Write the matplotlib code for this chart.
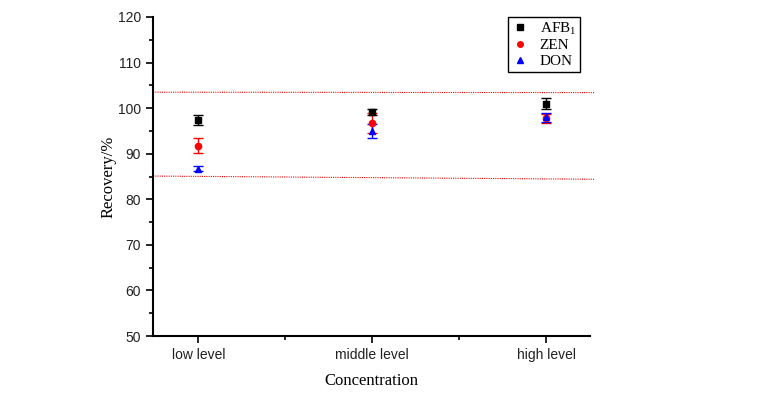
import matplotlib
matplotlib.use("Agg")
import matplotlib.pyplot as plt
from matplotlib.lines import Line2D
from matplotlib.ticker import MultipleLocator

# Data
levels = ["low level", "middle level", "high level"]
afb1 = [97.4, 99.2, 101.0]
afb1_err = [1.0, 0.7, 1.2]
zen = [91.8, 96.8, 97.8]
zen_err = [1.7, 2.2, 1.0]
don = [86.7, 95.0, 98.0]
don_err = [0.6, 1.6, 1.0]

# red reference lines (start, end)
upper_ref = [103.5, 103.4]
lower_ref = [85.1, 84.4]
ref_x = [0.74, 3.28]

plt.rcParams["mathtext.fontset"] = "stix"

fig = plt.figure(figsize=(7.69, 3.94), dpi=100)
ax = fig.add_axes([0.199, 0.147, 0.568, 0.81])

x = [1, 2, 3]
ax.errorbar(x, afb1, yerr=afb1_err, fmt="s", color="black", ms=4.5,
            capsize=3.5, elinewidth=1, capthick=1)
ax.errorbar(x, zen, yerr=zen_err, fmt="o", color="red", ms=4.5,
            capsize=3.5, elinewidth=1, capthick=1)
ax.errorbar(x, don, yerr=don_err, fmt="^", color="blue", ms=5,
            capsize=3.5, elinewidth=1, capthick=1)

ax.plot(ref_x, upper_ref, color="red", ls=(0, (1, 1)), lw=0.8, clip_on=False)
ax.plot(ref_x, lower_ref, color="red", ls=(0, (1, 1)), lw=0.8, clip_on=False)

ax.set_xlim(0.74, 3.25)
ax.set_ylim(50, 120)
ax.set_xticks(x)
ax.set_xticklabels(levels)
ax.xaxis.set_minor_locator(MultipleLocator(0.5))
ax.yaxis.set_major_locator(MultipleLocator(10))
ax.yaxis.set_minor_locator(MultipleLocator(5))

for side in ["top", "right"]:
    ax.spines[side].set_visible(False)
ax.spines["left"].set_linewidth(1.5)
ax.spines["bottom"].set_linewidth(1.5)

ax.tick_params(which="major", direction="out", length=5, width=1.2,
               labelsize=10, labelcolor="#222222")
ax.tick_params(which="minor", direction="out", length=3, width=1.2)
for lab in ax.get_xticklabels() + ax.get_yticklabels():
    lab.set_fontfamily("Liberation Sans")

ax.set_xlabel("Concentration", family="Liberation Serif", fontsize=12, labelpad=8)
ax.set_ylabel("Recovery/%", family="Liberation Serif", fontsize=12, labelpad=1)

handles = [
    Line2D([], [], ls="none", marker="s", color="black", ms=4),
    Line2D([], [], ls="none", marker="o", color="red", ms=4),
    Line2D([], [], ls="none", marker="^", color="blue", ms=4.5),
]
labels = [r"AFB$_{\mathregular{1}}$", "ZEN", "DON"]
leg = ax.legend(handles, labels, loc="upper right", bbox_to_anchor=(0.978, 1.0),
                borderaxespad=0,
                prop={"family": "Liberation Serif", "size": 11},
                fancybox=False, edgecolor="black", framealpha=1,
                handlelength=1.0, handletextpad=0.8, borderpad=0.25,
                labelspacing=0.12)
leg.get_frame().set_linewidth(1)

fig.savefig("out.png", dpi=100)
plt.close(fig)
